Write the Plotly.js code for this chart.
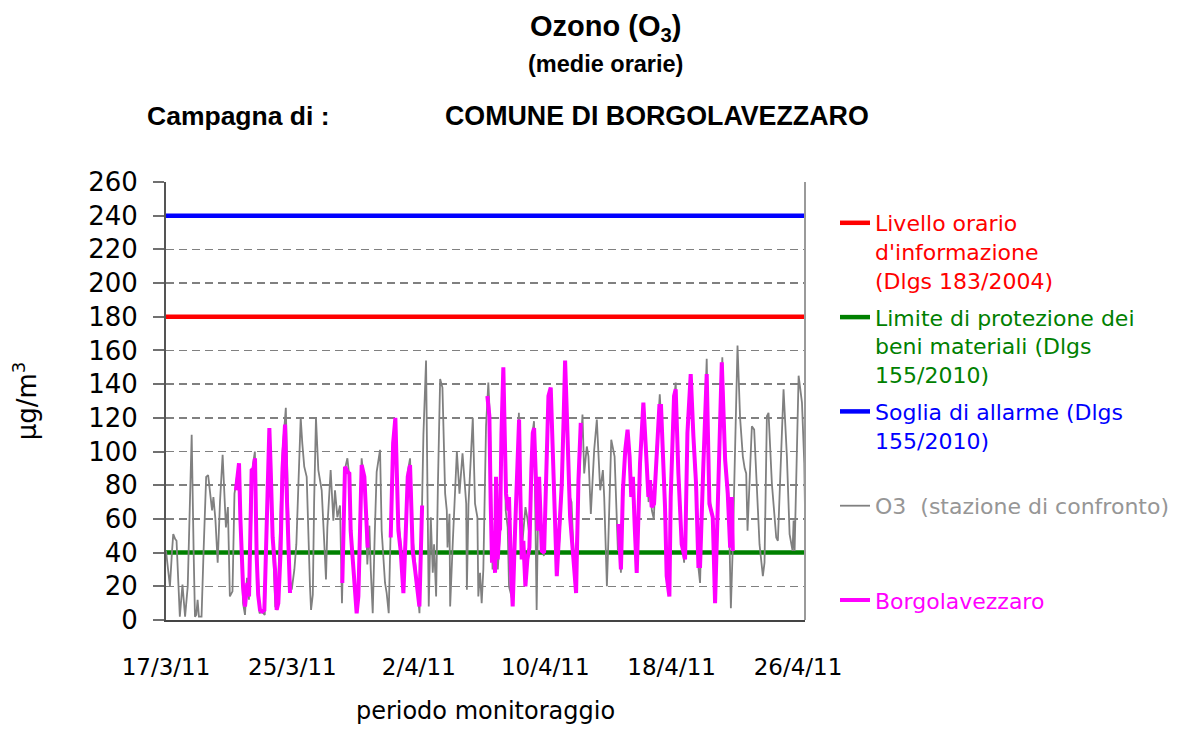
<!DOCTYPE html>
<html>
<head>
<meta charset="utf-8">
<script src="https://cdn.plot.ly/plotly-3.0.1.min.js"></script>
<style>
  html, body { margin: 0; padding: 0; background: #ffffff; }
  #chart { width: 1178px; height: 729px; }
</style>
</head>
<body>
<div id="chart"></div>
<script>
// ---- Data ----
// Time is given in hours since 17/3/2011 00:00
const inizio = Date.UTC(2011, 2, 17, 0, 0);
const fineOre = 970.6;

// Threshold levels (µg/m3)
const livelloInformazione = 180;
const limiteBeniMateriali = 40;
const sogliaAllarme = 240;

// O3 comparison station (hourly means, grey)
const oreConfronto = [
  0, 3, 6, 9, 11, 14, 16, 19, 21, 25, 29, 33, 36, 39, 42, 44, 46, 48, 50, 54,
  57, 61, 64, 67, 70, 72, 75, 78.5, 82, 86, 89, 91, 94, 97, 101, 104,
  106, 108, 111, 113, 115, 117, 120, 123, 126, 129, 132, 135, 138, 142, 146, 150,
  153, 157, 160, 163, 166, 169, 173, 177, 182, 185, 188, 191, 195, 198, 201, 204.6,
  207, 210, 213.7, 216, 218.7, 220.3, 223, 225, 227.8, 231.4, 236.5, 241.6, 243,
  245.1, 250.1, 254.2, 256.7, 260.3, 264.3, 267.3,
  270, 272, 275.5, 278.5, 281, 284, 287, 290, 293, 295, 297.2, 301, 303, 305.8,
  308.9, 311, 314, 317, 320, 325.1, 327.6, 332.7, 335.2, 338.3,
  341, 344, 348.4, 353, 356.5, 360.6, 364, 367.2, 370.7, 374.7, 378.3, 383.4, 385,
  388, 391, 395, 397, 399.1, 402.2, 405.2, 407.2, 410.3, 413, 416.4, 419.9, 424,
  426.5, 427.6, 430.6, 431.6, 435.7, 441.8, 445.8, 450.4, 456, 457, 459.5, 466,
  469.4, 473, 474.4, 477, 479.5, 482, 486.1, 489.6,
  492, 494, 496, 498, 501, 504, 507, 511, 513, 516, 519, 521, 526, 530, 536, 540,
  543, 546, 549, 552, 557, 559, 563, 565, 567, 571, 574, 581, 584, 588, 594, 598,
  601, 606, 609, 612, 616, 620, 624, 627, 631, 632.6, 635.2, 639.2, 641.7, 645.3,
  650.4, 654.4, 659.5, 663.6, 665.6, 669.7, 671.2, 676.3, 681.4, 686.4,
  689, 691, 694, 697.6, 701, 704, 707, 709, 712, 715, 720, 725, 730, 733, 735, 738,
  741, 745, 750, 752, 755, 758, 761, 764, 767, 771.7, 774.2, 778, 783, 787, 792,
  797, 801, 805, 809, 811.2, 816, 821.3, 825, 830, 834, 839, 845, 849, 853, 856, 858,
  861, 864.5, 868.1, 872, 876.2, 879, 881.3, 883.3, 889.9, 893.4, 897.5, 901.5,
  906.6, 909.1, 912.7, 915.2, 920.3, 926.9, 929.4, 934, 938, 943.1, 947.2, 951.7,
  953.3, 954.8, 960.9, 966, 969.5, 970.6
];
const o3Confronto = [
  41, 30, 20, 40, 51, 48, 47, 20, 2, 21, 2, 20, 70, 110, 40, 2, 3, 12, 2, 2,
  40, 85, 86, 77, 65, 73, 60, 34, 70, 98, 70, 55, 67, 14, 17, 75,
  80, 86, 90, 60, 30, 10, 3, 25, 12, 60, 92, 100, 45, 4, 5, 3,
  55, 112, 70, 40, 8, 6, 50, 100, 126, 70, 25, 18, 30, 45, 80, 120,
  105, 91, 85, 50, 20, 6, 15, 70, 120, 89, 77, 36, 24,
  55, 89, 59, 77, 61, 68, 10,
  60, 90, 96, 85, 55, 35, 18, 5, 20, 70, 96, 80, 73, 33,
  56, 30, 4, 50, 88, 101, 53, 22, 16, 4,
  50, 100, 115, 60, 45, 20, 50, 88, 96, 48, 35, 10, 4,
  50, 110, 154, 80, 8, 61, 28, 45, 14, 80, 143, 138, 75,
  65, 43, 63, 8, 47, 100, 75, 99, 69, 18, 69, 120,
  69, 61, 14, 28, 10, 30, 115, 141,
  120, 60, 30, 45, 75, 30, 50, 140, 135, 65, 55, 20, 12, 45, 123, 40,
  55, 67, 60, 50, 112, 118, 6, 60, 80, 45, 38, 128, 135, 90, 30, 50,
  75, 135, 123, 75, 70, 30, 50, 80, 110, 122, 87, 103, 97, 63,
  101, 119, 77, 89, 73, 20, 38, 107, 97, 41,
  45, 28, 70, 100, 110, 95, 75, 80, 50, 30, 95, 120, 95, 70, 80, 65,
  60, 100, 134, 120, 95, 75, 30, 18, 70, 130, 141, 90, 50, 34, 105,
  140, 105, 75, 30, 22, 90, 155, 75, 60, 15, 85, 156, 97, 75, 45, 7,
  45, 97, 163, 120, 97, 90, 87, 53, 115, 113, 73, 45,
  26, 34, 121, 123, 81, 49, 47, 100, 137, 97, 51, 41,
  59, 41, 145, 129, 93, 65
];

// Borgolavezzaro mobile station (hourly means, magenta); null = no data
const oreBorgo = [
  106.3, 108.5, 110.9, 113, 114.9, 117, 120, 123.5, 126.1, 128, 130.1, 133, 135.2,
  137.7, 140, 142.8, 146, 149.4, 153, 157, 159, 162, 165.6, 168.1, 170.6, 174, 177,
  180.8, 183, 185.8, 188.4,
  230,
  267.8, 270, 271.9, 275.5, 278.5, 280.5, 283.5, 286.1, 289.6, 292.2, 295, 297.2,
  301.3, 303.5, 306.3,
  320,
  341.3, 345, 348.4, 351, 353, 356.5, 360.6, 364, 367.2, 370.7, 372.5, 374.7, 378.3,
  383.4, 384.9, 389,
  440,
  488.1, 491.2, 493.2, 495.2, 497.2, 499.8, 501.3, 503.8, 506.3, 507.4, 509.5, 511.4,
  512.4, 514, 516.5, 520, 521, 524, 526.6, 530.2, 533, 536.3, 538, 540.3, 542.8,
  545.9, 548.9, 552, 555, 557.1, 559.1, 562, 564.7, 566.7, 570.8, 574.3, 578, 580.9,
  584.4, 588.5, 591, 593.6, 597.6, 601.2, 604, 606.2, 608.8, 611, 613.8, 618.9,
  622.9, 626.5, 630,
  660,
  687.4, 691, 694, 697.6, 701.1, 704.2, 706.7, 709.2, 712, 715, 720, 725.1, 730.1,
  732.7, 735.2, 737.7, 741.3, 745.3, 749.4, 751.9, 755.5, 758, 760.5, 764.6, 766.6,
  769, 771.7, 774.2, 778.3, 783.3, 788.4, 792, 797, 801.1, 805.1, 808.7, 811.2,
  816.3, 821.3, 825.4, 830.5, 834, 839.1, 844.2, 849.3, 853.3, 856.9, 859.4, 861
];
const o3Borgo = [
  77, 88, 93, 60, 32, 20, 8, 22, 14, 40, 89, 90, 96,
  38, 15, 6, 5, 6, 60, 114, 90, 49, 30, 6, 10, 40, 90,
  116, 80, 34, 16,
  null,
  22, 70, 91, 88, 87, 53, 34, 20, 4, 14, 60, 92,
  85, 60, 43,
  null,
  49, 105, 120, 90, 53, 41, 16, 50, 85, 92, 70, 41, 30,
  14, 8, 68,
  null,
  133, 121, 69, 34, 53, 28, 85, 36, 53, 54, 110, 148,
  150, 120, 75, 65, 73, 30, 8, 53, 90, 119, 80, 36, 47,
  20, 36, 43, 90, 111, 114, 80, 53, 85, 41, 40, 100, 133,
  138, 95, 60, 26, 55, 81, 120, 154, 123, 90, 61, 36,
  16, 83, 117,
  null,
  57, 30, 77, 101, 113, 97, 73, 85, 55, 28, 93, 129, 93,
  73, 83, 67, 69, 99, 127, 127, 91, 67, 26, 14, 73,
  110, 133, 137, 87, 45, 36, 111, 146, 109, 81, 32, 32,
  93, 146, 69, 61, 10, 89, 153, 95, 75, 43, 73, 41
];

// Legend labels
const nomeInformazione = ["Livello orario", "d'informazione", "(Dlgs 183/2004)"];
const nomeBeni = ["Limite di protezione dei", "beni materiali (Dlgs", "155/2010)"];
const nomeAllarme = ["Soglia di allarme (Dlgs", "155/2010)"];
const nomeConfronto = ["O3\u00A0 (stazione di confronto)"];
const nomeBorgo = ["Borgolavezzaro"];

// ---- helpers ----
function oraData(h) {
  const d = new Date(inizio + h * 3600000);
  return d.toISOString().slice(0, 16).replace('T', ' ');
}
function etichetta(righe, colore, totRighe) {
  const r = righe.map(t => '<span style="color:' + colore + '">' + t + '</span>');
  while (r.length < totRighe) r.push('\u00A0');
  return r.join('<br>');
}

const xInizio = oraData(0);
const xFine = oraData(fineOre);

const traces = [
  {
    x: [xInizio, xFine], y: [livelloInformazione, livelloInformazione],
    mode: 'lines', line: { color: '#FF0000', width: 4.5 }, legendgroup: 'g1',
    name: etichetta(nomeInformazione, '#FF0000', 3)
  },
  {
    x: [xInizio, xFine], y: [limiteBeniMateriali, limiteBeniMateriali],
    mode: 'lines', line: { color: '#008000', width: 4.5 }, legendgroup: 'g2',
    name: etichetta(nomeBeni, '#008000', 3)
  },
  {
    x: [xInizio, xFine], y: [sogliaAllarme, sogliaAllarme],
    mode: 'lines', line: { color: '#0000FF', width: 4.5 }, legendgroup: 'g3',
    name: etichetta(nomeAllarme, '#0000FF', 3)
  },
  {
    x: oreConfronto.map(oraData), y: o3Confronto,
    mode: 'lines', line: { color: '#808080', width: 1.8 }, legendgroup: 'g4',
    name: etichetta(nomeConfronto, '#969696', 3)
  },
  {
    x: oreBorgo.map(oraData), y: o3Borgo,
    mode: 'lines', line: { color: '#FF00FF', width: 4 }, legendgroup: 'g5',
    connectgaps: false,
    name: etichetta(nomeBorgo, '#FF00FF', 1)
  }
];

const W = 1178, H = 729;
const L = 166, R = 373, T = 182, B = 109;
const pw = W - L - R, ph = H - T - B;
function px(x) { return (x - L) / pw; }
function py(y) { return (H - B - y) / ph; }

const layout = {
  width: W, height: H,
  margin: { l: L, r: R, t: T, b: B, pad: 0 },
  paper_bgcolor: '#ffffff', plot_bgcolor: '#ffffff',
  font: { family: 'DejaVu Sans, sans-serif', color: '#000000' },
  showlegend: true,
  legend: {
    xref: 'container', yref: 'container',
    x: 835 / W, y: 1 - 202 / H, xanchor: 'left', yanchor: 'top',
    valign: 'top', bgcolor: 'rgba(0,0,0,0)', borderwidth: 0,
    font: { family: 'DejaVu Sans, sans-serif', size: 22 },
    itemwidth: 30, tracegroupgap: 5.5, maxheight: 520
  },
  xaxis: {
    type: 'date', range: [xInizio, xFine],
    tick0: '2011-03-17', dtick: 8 * 86400000, tickformat: '%-d/%-m/%y',
    ticks: '', showgrid: false, zeroline: false,
    showline: true, linecolor: '#444444', linewidth: 2,
    tickfont: { family: 'DejaVu Sans, sans-serif', size: 23, color: '#000' },
    ticklabelstandoff: 25,
    title: { text: 'periodo monitoraggio', standoff: 24,
             font: { family: 'DejaVu Sans, sans-serif', size: 24, color: '#000' } }
  },
  yaxis: {
    range: [0, 260], tick0: 0, dtick: 20,
    ticks: 'outside', ticklen: 11, tickwidth: 2, tickcolor: '#707070',
    showgrid: true, gridcolor: '#808080', gridwidth: 1.5, griddash: '8px,5px',
    zeroline: false, showline: true, linecolor: '#555555', linewidth: 2,
    tickfont: { family: 'DejaVu Sans, sans-serif', size: 26, color: '#000' },
    ticklabelstandoff: 10,
    title: { text: 'µg/m<sup>3</sup>', standoff: 44,
             font: { family: 'DejaVu Sans, sans-serif', size: 26, color: '#000' } }
  },
  shapes: [
    { type: 'line', xref: 'paper', yref: 'paper', x0: 1, x1: 1, y0: 0, y1: 1,
      line: { color: '#9a9a9a', width: 2 } }
  ],
  annotations: [
    { text: '<b>Ozono (O<sub>3</sub>)</b>', xref: 'paper', yref: 'paper',
      x: px(605), y: py(28), xanchor: 'center', yanchor: 'middle', showarrow: false,
      font: { family: 'Liberation Sans, Arial, sans-serif', size: 29, color: '#000' } },
    { text: '<b>(medie orarie)</b>', xref: 'paper', yref: 'paper',
      x: px(605), y: py(64), xanchor: 'center', yanchor: 'middle', showarrow: false,
      font: { family: 'Liberation Sans, Arial, sans-serif', size: 23.5, color: '#000' } },
    { text: '<b>Campagna di :</b>', xref: 'paper', yref: 'paper',
      x: px(145), y: py(116), xanchor: 'left', yanchor: 'middle', showarrow: false,
      font: { family: 'Liberation Sans, Arial, sans-serif', size: 26.5, color: '#000' } },
    { text: '<b>COMUNE DI BORGOLAVEZZARO</b>', xref: 'paper', yref: 'paper',
      x: px(443), y: py(116), xanchor: 'left', yanchor: 'middle', showarrow: false,
      font: { family: 'Liberation Sans, Arial, sans-serif', size: 26.8, color: '#000' } }
  ]
};

Plotly.newPlot('chart', traces, layout, { displayModeBar: false, staticPlot: true });
</script>
</body>
</html>
